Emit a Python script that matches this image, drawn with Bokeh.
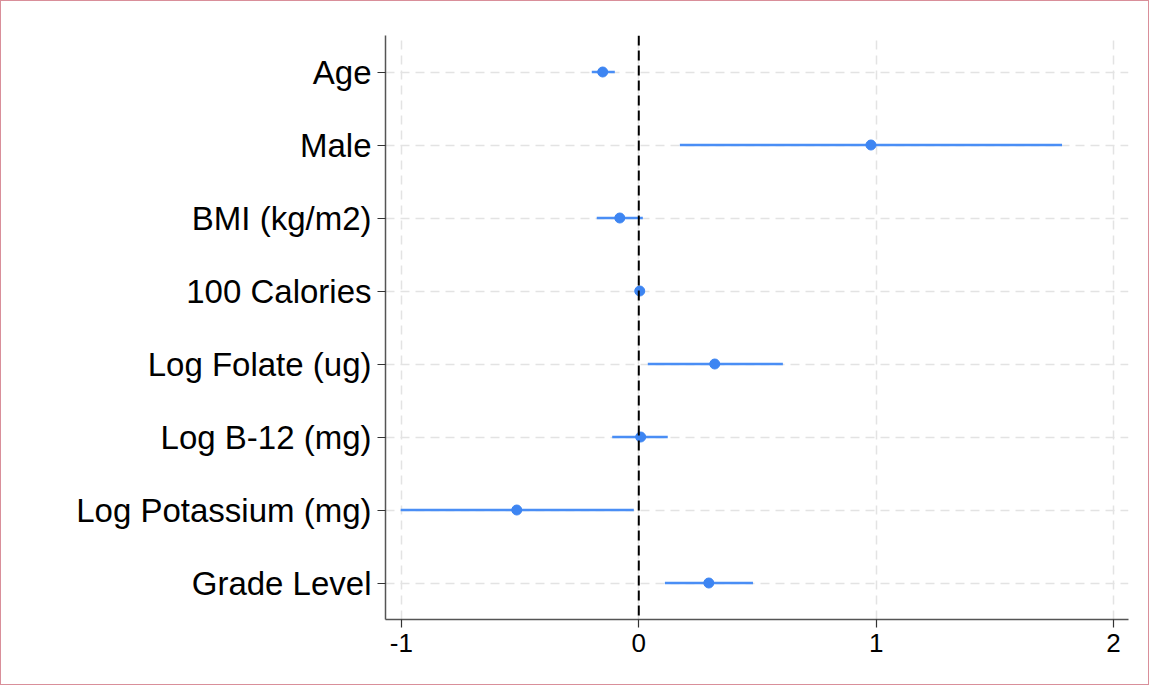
from bokeh.plotting import figure
from bokeh.models import FactorRange, Range1d, FixedTicker, Span, ColumnDataSource
from bokeh.embed import file_html
from bokeh.resources import INLINE

categories = ["Age", "Male", "BMI (kg/m2)", "100 Calories", "Log Folate (ug)",
              "Log B-12 (mg)", "Log Potassium (mg)", "Grade Level"]
estimate = [-0.152, 0.978, -0.080, 0.004, 0.320, 0.008, -0.514, 0.295]
lower = [-0.198, 0.173, -0.177, -0.006, 0.038, -0.112, -1.003, 0.110]
upper = [-0.101, 1.783, 0.017, 0.014, 0.607, 0.122, -0.021, 0.481]
x_ticks = [-1, 0, 1, 2]
x_tick_labels = ["-1", "0", "1", "2"]

src = ColumnDataSource(dict(cat=categories, est=estimate, lo=lower, hi=upper))

p = figure(width=1149, height=685, output_backend="svg", toolbar_location=None,
           y_range=FactorRange(factors=list(reversed(categories))),
           x_range=Range1d(-1.067, 2.063),
           min_border_left=384, min_border_right=22, min_border_top=34, min_border_bottom=67)
p.styles = {"border": "1px solid #d98f9a"}
p.outline_line_color = None
p.background_fill_color = "white"
p.border_fill_color = "white"

# grids
p.xgrid.ticker = FixedTicker(ticks=x_ticks)
for g in (p.xgrid, p.ygrid):
    g.grid_line_color = "#e3e3e3"
    g.grid_line_dash = "9 6"
    g.grid_line_width = 1.5

# zero reference
p.add_layout(Span(location=0, dimension="height", line_color="black",
                  line_dash="10 5", line_width=2))

p.segment(x0="lo", x1="hi", y0="cat", y1="cat", source=src,
          line_color="#4a8ef5", line_width=2.5)
p.scatter(x="est", y="cat", source=src, size=10, fill_color="#3d85f2",
          line_color="#3d85f2")

# axes
p.xaxis.ticker = FixedTicker(ticks=x_ticks)
p.xaxis.major_label_overrides = {t: s for t, s in zip(x_ticks, x_tick_labels)}
for ax in (p.xaxis, p.yaxis):
    ax.axis_line_color = "#555555"
    ax.axis_line_width = 1.5
    ax.major_tick_line_color = "#333333"
    ax.major_tick_line_width = 1.2
    ax.major_tick_out = 8
    ax.major_tick_in = 0
    ax.minor_tick_line_color = None
    ax.major_label_text_font = "Liberation Sans"
    ax.major_label_text_color = "black"
p.yaxis.major_label_text_font_size = "33px"
p.yaxis.major_label_standoff = 6
p.xaxis.major_label_text_font_size = "26px"
p.xaxis.major_label_standoff = 6

open("out.html", "w").write(file_html(p, INLINE))
